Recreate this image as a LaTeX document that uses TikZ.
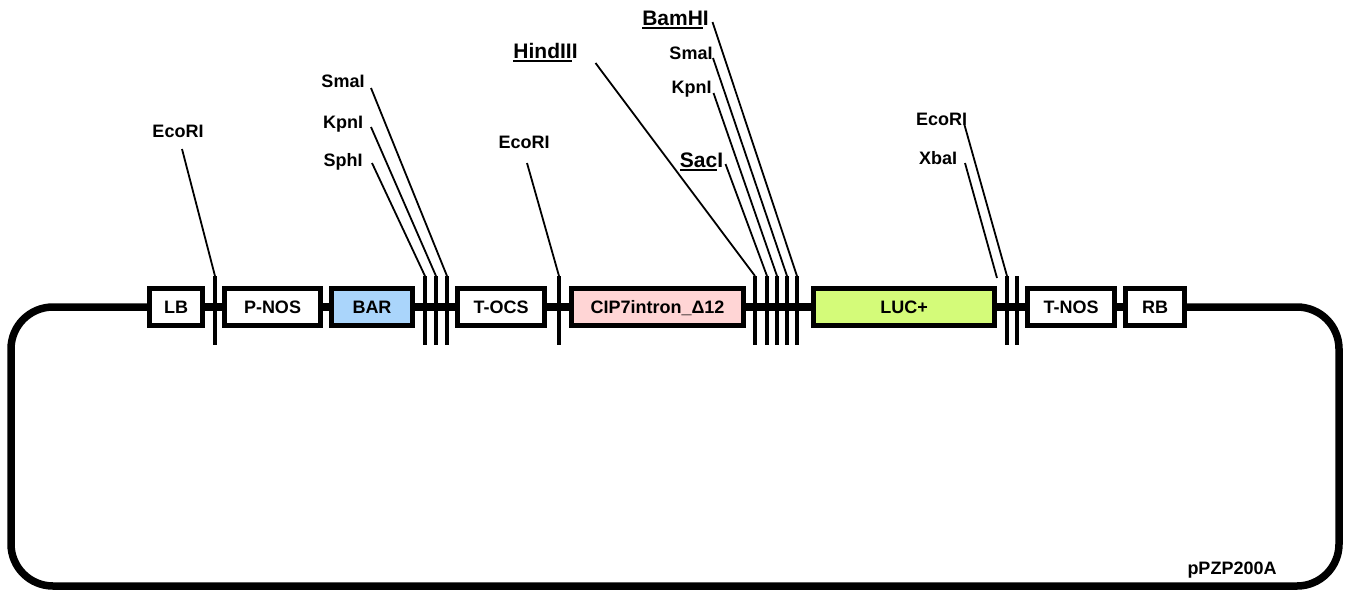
\documentclass[tikz,border=0pt]{standalone}
\usepackage{fontspec}
\setmainfont{Liberation Sans}
\usetikzlibrary{positioning}
\newcommand\ulword[1]{\setbox0\hbox{#1}\rlap{\rule[-3.5pt]{\wd0}{1.8pt}}\box0}

\begin{document}
\begin{tikzpicture}[
    x=1pt, y=-1pt,
    font=\fontsize{18}{20}\selectfont\bfseries,
    part/.style={draw, line width=5pt, minimum height=37pt, inner sep=0pt, text height=13pt, text depth=0pt, fill=white},
    site/.style={inner sep=0pt, text height=13pt, text depth=4pt},
    bigsite/.style={site, font=\fontsize{21}{23}\selectfont\bfseries, text height=15pt},
    cut/.style={line width=3.5pt},
    leader/.style={line width=1.8pt},
    backbone/.style={line width=7.5pt}
  ]
  \useasboundingbox (0,0) rectangle (1348,590);

  % --- T-DNA parts ---
  \node[part, minimum width=53pt] (lb) at (176,307) {LB};
  \node[part, minimum width=96pt] (pnos) at (272.5,307) {P-NOS};
  \node[part, minimum width=81pt, fill={rgb,255:red,170;green,213;blue,251}] (bar) at (372,307) {BAR};
  \node[part, minimum width=87pt] (tocs) at (501,307) {T-OCS};
  \node[part, minimum width=172pt, fill={rgb,255:red,255;green,213;blue,213}] (cip) at (657.5,307) {CIP7intron\_Δ12};
  \node[part, minimum width=181pt, fill={rgb,255:red,212;green,251;blue,121}] (luc) at (904,307) {LUC+};
  \node[part, minimum width=87pt] (tnos) at (1071,307) {T-NOS};
  \node[part, minimum width=59pt] (rb) at (1155,307) {RB};

  % --- backbone ---
  \draw[backbone] (lb) -- (pnos);
  \draw[backbone] (pnos) -- (bar);
  \draw[backbone] (bar) -- (tocs);
  \draw[backbone] (tocs) -- (cip);
  \draw[backbone] (cip) -- (luc);
  \draw[backbone] (luc) -- (tnos);
  \draw[backbone] (tnos) -- (rb);
  \coordinate (ne) at (1339,307);
  \coordinate (se) at (1339,586);
  \coordinate (sw) at (11,586);
  \coordinate (nw) at (11,307);
  \draw[backbone, rounded corners=42pt] (rb.east) -- (ne) -- (se) -- (sw) -- (nw) -- (lb.west);

  % --- cut sites ---
  \foreach \n/\x in {1/215, 2/425, 3/436, 4/447, 5/559, 6/755, 7/767, 8/777, 9/787, 10/797, 11/1007, 12/1017}{
    \coordinate (t\n) at (\x,276);
    \draw[cut] (t\n) -- ++(0,69);
  }
  \coordinate (xbaend) at (997,278);

  % --- enzyme labels ---
  \node[site] (ecoA) at (178,133) {EcoRI};
  \node[site] (smaA) at (343,83) {SmaI};
  \node[site] (kpnA) at (343,124) {KpnI};
  \node[site] (sph) at (343,162) {SphI};
  \node[site] (ecoB) at (524,144) {EcoRI};
  \node[bigsite] (hind) at (545.5,53) {\ulword{HindII}I};
  \node[bigsite] (bam) at (675.5,20) {\ulword{BamH}I};
  \node[site] (smaB) at (691,55) {SmaI};
  \node[site] (kpnB) at (691.5,89) {KpnI};
  \node[bigsite] (sac) at (701.5,162) {\ulword{Sac}I};
  \node[site] (ecoC) at (941.5,121) {EcoRI};
  \node[site] (xba) at (938,160) {XbaI};

  \draw[leader] ([shift={(4,16)}]ecoA.center) -- (t1);
  \draw[leader] ([shift={(28,5)}]smaA.center) -- (t4);
  \draw[leader] ([shift={(28,3)}]kpnA.center) -- (t3);
  \draw[leader] ([shift={(29,1)}]sph.center) -- (t2);
  \draw[leader] ([shift={(3,19)}]ecoB.center) -- (t5);
  \draw[leader] ([shift={(50,10)}]hind.center) -- (t6);
  \draw[leader] ([shift={(37,2)}]bam.center) -- (t10);
  \draw[leader] ([shift={(22,3)}]smaB.center) -- (t9);
  \draw[leader] ([shift={(22,4)}]kpnB.center) -- (t8);
  \draw[leader] ([shift={(24,2)}]sac.center) -- (t7);
  \draw[leader] ([shift={(23,4)}]ecoC.center) -- (t11);
  \draw[leader] ([shift={(27,3)}]xba.center) -- (xbaend);

  \node[site] (name) at (1232,570) {pPZP200A};

\end{tikzpicture}
\end{document}
